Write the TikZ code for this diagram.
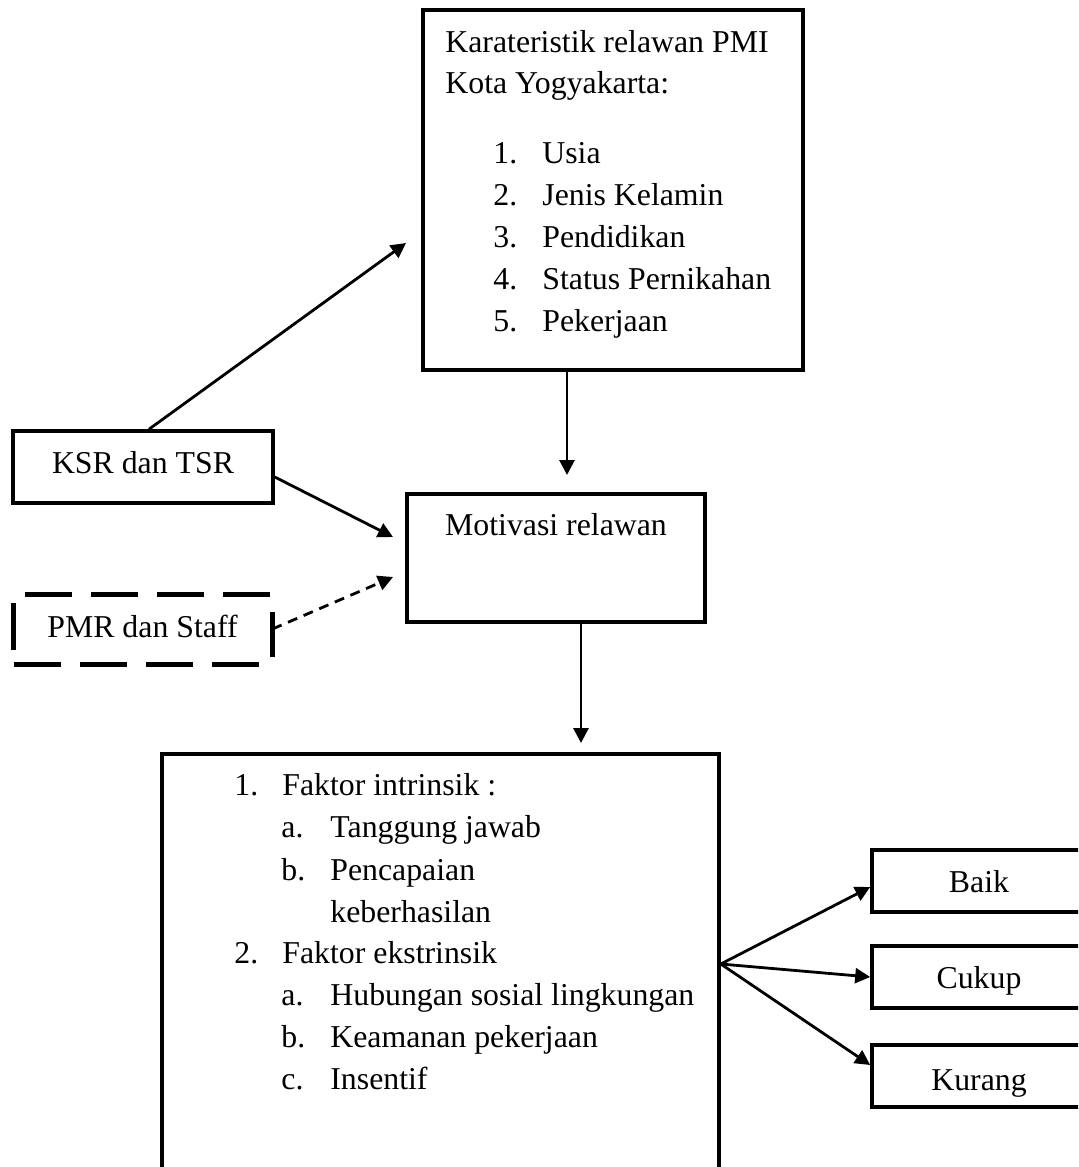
\documentclass[tikz,border=0pt]{standalone}
\usepackage{fontspec}
\setmainfont{Liberation Serif}
\usetikzlibrary{arrows.meta,calc}
\begin{document}
\begin{tikzpicture}[x=0.5pt,y=-0.5pt,
  box/.style={draw,line width=1.8pt,rectangle,inner sep=0pt},
  txt/.style={inner sep=0pt,anchor=base west,font=\fontsize{15.9}{19}\selectfont},
  ctxt/.style={txt,anchor=base},
  arr/.style={line width=1.4pt,-{Triangle[length=7.5pt,width=7.5pt]}},
  dsh/.style={line width=2.5pt,line cap=butt,dash pattern=on 23.5pt off 9.5pt},
]
\useasboundingbox (0,0) rectangle (1078,1167);
\clip (0,0) rectangle (1078,1167);
% boxes
\node[box,minimum width=190pt,minimum height=180pt] (char) at (613,190) {};
\node[box,minimum width=149pt,minimum height=64pt] (mot) at (556,558) {};
\node[box,minimum width=130pt,minimum height=36pt] (ksr) at (143,467) {};
\node[inner sep=0pt,minimum width=129.5pt,minimum height=35pt] (pmr) at (142.5,629) {};
\node[box,minimum width=278.5pt,minimum height=223pt] (fak) at (440.5,977) {};
\node[box,minimum width=107pt,minimum height=31pt] (baik) at (979,881) {};
\node[box,minimum width=107pt,minimum height=31pt] (cukup) at (979,977) {};
\node[box,minimum width=107pt,minimum height=31pt] (kurang) at (979,1076) {};
% dashed border of PMR box
\draw[dsh] (25,594) -- (272,594);
\draw[dsh] (14,664) -- (262,664);
\draw[line width=2.5pt] (13,603) -- (13,650);
\draw[line width=2.5pt] (272,612) -- (272,657);
% texts
\node[txt] (c1) at (445,52) {Karateristik relawan PMI};
\node[txt] (c2) at (445,93) {Kota Yogyakarta:};
\node[txt] (n1) at (493,163) {1.};
\node[txt] (i1) at (542,163) {Usia};
\node[txt] (n2) at (493,205) {2.};
\node[txt] (i2) at (542,205) {Jenis Kelamin};
\node[txt] (n3) at (493,247) {3.};
\node[txt] (i3) at (542,247) {Pendidikan};
\node[txt] (n4) at (493,289) {4.};
\node[txt] (i4) at (542,289) {Status Pernikahan};
\node[txt] (n5) at (493,331) {5.};
\node[txt] (i5) at (542,331) {Pekerjaan};
\node[ctxt] (mott) at (556,535) {Motivasi relawan};
\node[ctxt] (ksrt) at (143,473) {KSR dan TSR};
\node[ctxt] (pmrt) at (142.5,637) {PMR dan Staff};
\node[txt] (f1n) at (234,795) {1.};
\node[txt] (f1) at (282,795) {Faktor intrinsik :};
\node[txt] (f1an) at (281,837) {a.};
\node[txt] (f1a) at (330,837) {Tanggung jawab};
\node[txt] (f1bn) at (281,880) {b.};
\node[txt] (f1b) at (330,880) {Pencapaian};
\node[txt] (f1b2) at (330,922) {keberhasilan};
\node[txt] (f2n) at (234,963) {2.};
\node[txt] (f2) at (282,963) {Faktor ekstrinsik};
\node[txt] (f2an) at (281,1005) {a.};
\node[txt] (f2a) at (330,1005) {Hubungan sosial lingkungan};
\node[txt] (f2bn) at (281,1047) {b.};
\node[txt] (f2b) at (330,1047) {Keamanan pekerjaan};
\node[txt] (f2cn) at (281,1089) {c.};
\node[txt] (f2c) at (330,1089) {Insentif};
\node[ctxt] (baikt) at (979,892) {Baik};
\node[ctxt] (cukupt) at (979,988) {Cukup};
\node[ctxt] (kurangt) at (979,1090) {Kurang};
% connectors
\coordinate (t1) at (406,243);
\draw[arr] ([xshift=3pt]ksr.north) -- (t1);
\coordinate (t2) at (393,537);
\draw[arr] ([yshift=-5pt]ksr.east) -- (t2);
\coordinate (t3) at (393,577);
\draw[arr,dash pattern=on 5pt off 3.5pt] (pmr.east) -- (t3);
\coordinate (t4) at (567,475);
\draw[arr] ([xshift=-23pt]char.south) -- (t4);
\coordinate (t5) at (581,743);
\draw[arr] ([xshift=12.5pt]mot.south) -- (t5);
\coordinate (fan) at ([yshift=6.5pt]fak.east);
\draw[arr] (fan) -- ([yshift=-3pt]baik.west);
\draw[arr] (fan) -- (cukup.west);
\draw[arr] (fan) -- ([yshift=5.5pt]kurang.west);
\end{tikzpicture}
\end{document}
